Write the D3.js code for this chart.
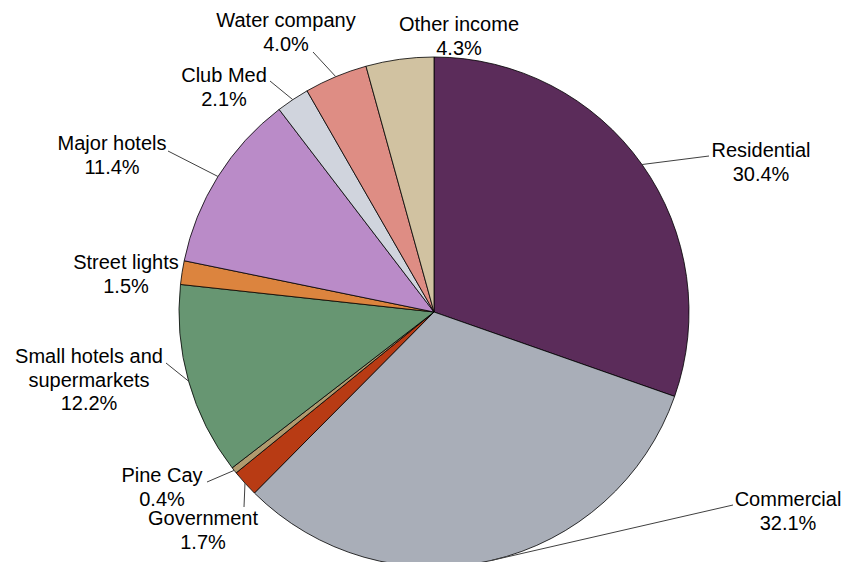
<!DOCTYPE html>
<html>
<head>
<meta charset="utf-8">
<script src="https://cdn.jsdelivr.net/npm/d3@7"></script>
<style>
  body { margin: 0; background: #fff; }
  text { font-family: Arial, "Liberation Sans", sans-serif; font-size: 20px; fill: #000; }
</style>
</head>
<body>
<div id="chart"></div>
<script>
// Revenue share by customer class (percent)
var categories = ["Residential", "Commercial", "Government", "Pine Cay",
    "Small hotels and supermarkets", "Street lights", "Major hotels",
    "Club Med", "Water company", "Other income"];
var shares = [30.4, 32.1, 1.7, 0.4, 12.2, 1.5, 11.4, 2.1, 4.0, 4.3];
var shareLabels = ["30.4%", "32.1%", "1.7%", "0.4%", "12.2%", "1.5%", "11.4%", "2.1%", "4.0%", "4.3%"];
var colors = ["#5b2c5a", "#a9aeb8", "#b83b14", "#b09a6e", "#679672",
    "#dc843e", "#ba8bc8", "#d0d4dd", "#de8d84", "#d1c2a1"];

var w = 848;
var h = 562;
var cx = 434, cy = 312, r = 255;

// label placement: text centre x, first baseline y, leader end (or null)
var labelPos = [
    {x: 761, y: 157, end: [709, 156]},
    {x: 788, y: 506, end: [733, 505]},
    {x: 203, y: 525, end: [244, 507]},
    {x: 162, y: 482, end: [207, 482]},
    {x: 89,  y: 363, end: [166, 363]},
    {x: 126, y: 269, end: null},
    {x: 112, y: 150, end: [168, 151]},
    {x: 224, y: 82,  end: [270, 81]},
    {x: 286, y: 27,  end: [313, 52]},
    {x: 459, y: 31,  end: null}
];

function wrapLines(name, i) {
    if (name === "Small hotels and supermarkets") return ["Small hotels and", "supermarkets", shareLabels[i]];
    return [name, shareLabels[i]];
}

var svg = d3.select("#chart")
    .append("svg")
    .attr("width", w)
    .attr("height", h);

svg.append("rect")
    .attr("width", w)
    .attr("height", h)
    .attr("fill", "#fff");

var pie = d3.pie()
    .sort(null)
    .value(function(d) { return d; });

var arcs = pie(shares);

var arc = d3.arc()
    .innerRadius(0)
    .outerRadius(r);

var g = svg.append("g")
    .attr("transform", "translate(" + cx + "," + cy + ")");

g.selectAll("path")
    .data(arcs)
    .enter()
    .append("path")
    .attr("d", arc)
    .attr("fill", function(d, i) { return colors[i]; })
    .attr("stroke", "#000")
    .attr("stroke-width", 0.8);

// leader lines from slice edge (mid angle) to label
svg.selectAll("line.leader")
    .data(arcs)
    .enter()
    .filter(function(d, i) { return labelPos[i].end !== null; })
    .append("polyline")
    .attr("class", "leader")
    .attr("fill", "none")
    .attr("stroke", "#404040")
    .attr("stroke-width", 1)
    .attr("points", function(d) {
        var i = d.index;
        var a = (d.startAngle + d.endAngle) / 2;
        var sx = cx + r * Math.sin(a);
        var sy = cy - r * Math.cos(a);
        var e = labelPos[i].end;
        return e[0] + "," + e[1] + " " + sx + "," + sy;
    });

// labels
categories.forEach(function(name, i) {
    var lines = wrapLines(name, i);
    var t = svg.append("text")
        .attr("text-anchor", "middle")
        .attr("x", labelPos[i].x)
        .attr("y", labelPos[i].y);
    lines.forEach(function(line, k) {
        t.append("tspan")
            .attr("x", labelPos[i].x)
            .attr("dy", k === 0 ? 0 : 23.5)
            .text(line);
    });
});
</script>
</body>
</html>
